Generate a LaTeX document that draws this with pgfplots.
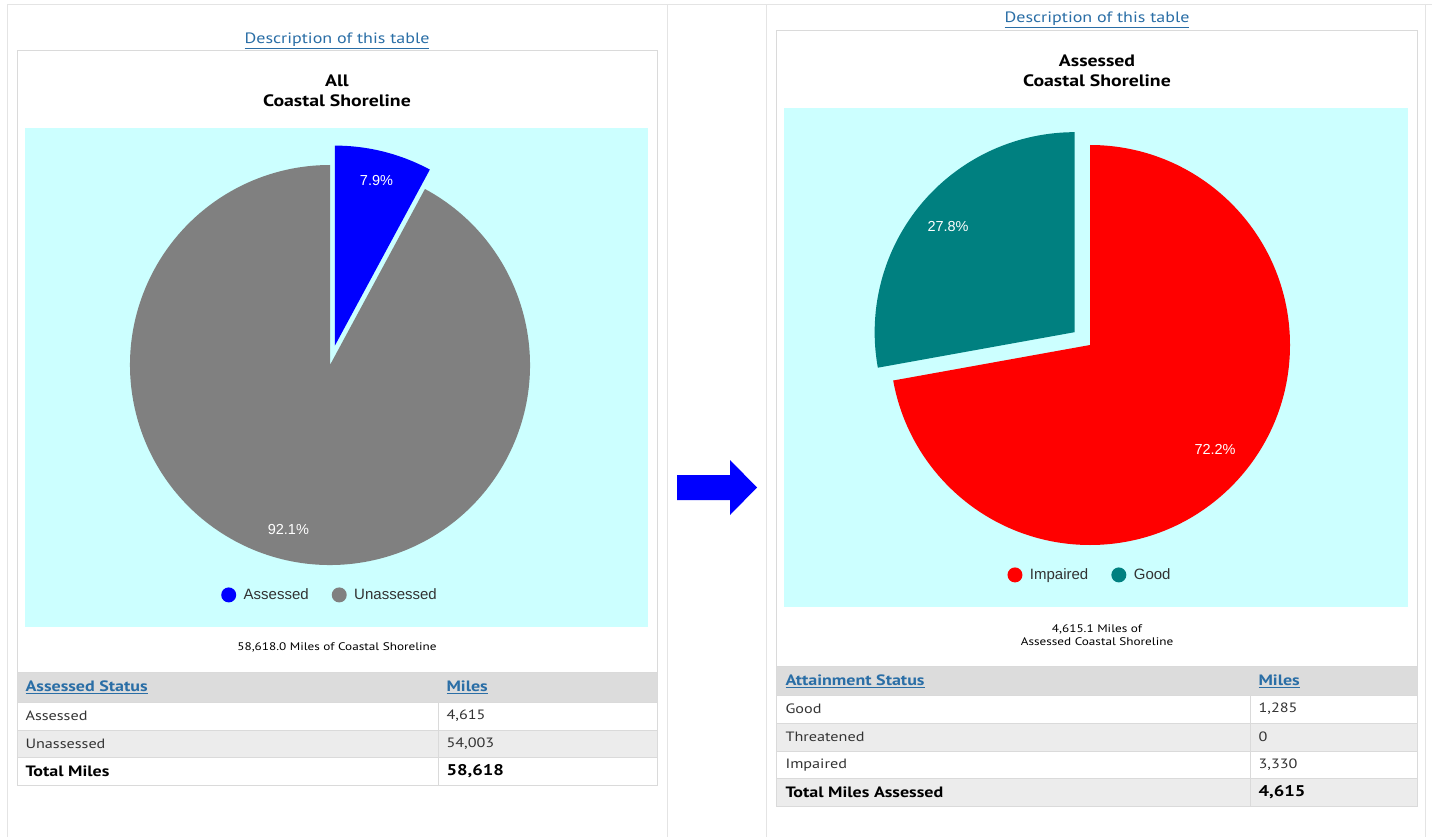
\documentclass[border=0pt]{standalone}
\usepackage{pgfplots}
\pgfplotsset{compat=1.18}
\usepackage{pgfplotstable}
\usepackage{fontspec}
\setmainfont[FakeStretch=1.2]{PT Sans}
\newfontfamily\arial{Liberation Sans}
\definecolor{bgcyan}{HTML}{CCFFFF}
\definecolor{pblue}{HTML}{0000FF}
\definecolor{pgrey}{HTML}{808080}
\definecolor{pred}{HTML}{FF0000}
\definecolor{pteal}{HTML}{008080}
\definecolor{linkc}{HTML}{2A6EA6}
\definecolor{framec}{HTML}{E4E4E4}
\definecolor{boxc}{HTML}{DADADA}
\definecolor{headc}{HTML}{DCDCDC}
\definecolor{altc}{HTML}{ECECEC}
\definecolor{txtc}{HTML}{333333}

\pgfplotstableread{
label value
Assessed 4615
Unassessed 54003
}\leftdata
\pgfplotstableread{
label value
Impaired 3330
Good 1285
}\rightdata

\begin{document}
\begin{tikzpicture}[x=1pt,y=1pt]
% ---- values and angles
\pgfplotstablegetelem{0}{value}\of\leftdata \let\la\pgfplotsretval
\pgfplotstablegetelem{1}{value}\of\leftdata \let\lb\pgfplotsretval
\pgfplotstablegetelem{0}{value}\of\rightdata \let\ra\pgfplotsretval
\pgfplotstablegetelem{1}{value}\of\rightdata \let\rb\pgfplotsretval
\pgfkeys{/pgf/fpu=true,/pgf/fpu/output format=fixed}
\pgfmathsetmacro\lsum{\la+\lb}
\pgfmathsetmacro\lspan{360*\la/\lsum}
\pgfmathsetmacro\lendA{90-\lspan}
\pgfmathsetmacro\lmidA{90-\lspan/2}
\pgfmathsetmacro\lmidB{(\lendA-270)/2}
\pgfmathsetmacro\lpa{100*\la/\lsum}
\pgfmathsetmacro\lpb{100*\lb/\lsum}
\pgfmathsetmacro\rsum{\ra+\rb}
\pgfmathsetmacro\rspan{360*\ra/\rsum}
\pgfmathsetmacro\rendA{90-\rspan}
\pgfmathsetmacro\rmidA{90-\rspan/2}
\pgfmathsetmacro\rmidB{(\rendA-270)/2}
\pgfmathsetmacro\rpa{100*\ra/\rsum}
\pgfmathsetmacro\rpb{100*\rb/\rsum}
\pgfkeys{/pgf/fpu=false}

\fill[white] (0,0) rectangle (1432,-837);
\useasboundingbox (0,0) rectangle (1432,-837);
% frame lines
\draw[framec, line width=1pt] (7,-837) -- (7,-5) -- (1432,-5);
\draw[framec, line width=1pt] (667,-5) -- (667,-837);
\draw[framec, line width=1pt] (766,-5) -- (766,-837);
\draw[framec, line width=1pt] (1425,-5) -- (1425,-837);

% ---- left panel boxes
\draw[boxc] (17,-50) rectangle (657,-785);
\fill[bgcyan] (25,-128) rectangle (648,-627);
\fill[headc] (17,-672) rectangle (657,-702);
\fill[altc] (17,-730) rectangle (657,-757);
\draw[boxc] (17,-702) -- (657,-702);
\draw[boxc] (17,-730) -- (657,-730);
\draw[boxc] (17,-757) -- (657,-757);
\draw[boxc] (438,-702) -- (438,-785);
\draw[boxc] (17,-672) rectangle (657,-785);

% ---- right panel boxes
\draw[boxc] (776,-30) rectangle (1417,-806);
\fill[bgcyan] (784,-108) rectangle (1408,-607);
\fill[headc] (776,-666) rectangle (1417,-695);
\fill[altc] (776,-723) rectangle (1417,-751);
\fill[altc] (776,-778) rectangle (1417,-806);
\draw[boxc] (776,-695) -- (1417,-695);
\draw[boxc] (776,-723) -- (1417,-723);
\draw[boxc] (776,-751) -- (1417,-751);
\draw[boxc] (776,-778) -- (1417,-778);
\draw[boxc] (1250,-695) -- (1250,-806);
\draw[boxc] (776,-666) rectangle (1417,-806);

% ---- arrow
\fill[pblue] (677,-475) -- (730,-475) -- (730,-460) -- (757,-487.5) -- (730,-515) -- (730,-500) -- (677,-500) -- cycle;

% ---- left pie
\begin{axis}[at={(330pt,-365pt)}, anchor=center, x=200pt, y=200pt,
  xmin=-1.2, xmax=1.2, ymin=-1.2, ymax=1.2, hide axis, clip=false,
  legend style={at={(0.5,0.021)}, anchor=center, draw=none, fill=none,
    legend columns=2, font=\arial\fontsize{15}{18}\selectfont, text=txtc,
    /tikz/every even column/.append style={column sep=21pt}},
  legend image code/.code={\fill[#1] (0pt,0pt) circle (7.5pt); \path (13pt,0pt);}]
\addlegendimage{fill=pblue,draw=none}
\addlegendentry{Assessed}
\addlegendimage{fill=pgrey,draw=none}
\addlegendentry{Unassessed}
\fill[pgrey] (axis cs:0,0) -- ++(\lendA:200pt) arc[start angle=\lendA, end angle=-270, radius=200pt] -- cycle;
\fill[pblue] (axis cs:0,0) ++(\lmidA:20pt) -- ++(90:200pt) arc[start angle=90, end angle=\lendA, radius=200pt] -- cycle;
\path (axis cs:0,0) ++(\lmidA:190pt) node[text=white, font=\arial\fontsize{14.5}{17}\selectfont] {\pgfmathprintnumber[fixed,fixed zerofill,precision=1,assume math mode=true]{\lpa}\%};
\path (axis cs:0,0) ++(\lmidB:170pt) node[text=white, font=\arial\fontsize{14.5}{17}\selectfont] {\pgfmathprintnumber[fixed,fixed zerofill,precision=1,assume math mode=true]{\lpb}\%};
\end{axis}

% ---- right pie
\begin{axis}[at={(1090pt,-345pt)}, anchor=center, x=200pt, y=200pt,
  xmin=-1.2, xmax=1.2, ymin=-1.2, ymax=1.2, hide axis, clip=false,
  legend style={at={(0.5,0.021)}, anchor=center, draw=none, fill=none,
    legend columns=2, font=\arial\fontsize{15}{18}\selectfont, text=txtc,
    /tikz/every even column/.append style={column sep=21pt}},
  legend image code/.code={\fill[#1] (0pt,0pt) circle (7.5pt); \path (13pt,0pt);}]
\addlegendimage{fill=pred,draw=none}
\addlegendentry{Impaired}
\addlegendimage{fill=pteal,draw=none}
\addlegendentry{Good}
\fill[pred] (axis cs:0,0) -- ++(90:200pt) arc[start angle=90, end angle=\rendA, radius=200pt] -- cycle;
\fill[pteal] (axis cs:0,0) ++(\rmidB:20pt) -- ++(\rendA:200pt) arc[start angle=\rendA, end angle=-270, radius=200pt] -- cycle;
\path (axis cs:0,0) ++(\rmidA:163pt) node[text=white, font=\arial\fontsize{14.5}{17}\selectfont] {\pgfmathprintnumber[fixed,fixed zerofill,precision=1,assume math mode=true]{\rpa}\%};
\path (axis cs:0,0) ++(\rmidB:185pt) node[text=white, font=\arial\fontsize{14.5}{17}\selectfont] {\pgfmathprintnumber[fixed,fixed zerofill,precision=1,assume math mode=true]{\rpb}\%};
\end{axis}

% ---- left texts
\node[text=linkc, font=\fontsize{15}{18}\selectfont] at (337,-41) {\underline{Description of this table}};
\node[font=\bfseries\fontsize{16.5}{20}\selectfont, align=center] at (337,-91) {All\\Coastal Shoreline};
\node[text=black, font=\fontsize{11}{13}\selectfont] at (337,-647) {58,618.0 Miles of Coastal Shoreline};
\node[anchor=west, text=linkc, font=\bfseries\fontsize{15}{17}\selectfont] at (22,-687) {\underline{Assessed Status}};
\node[anchor=west, text=linkc, font=\bfseries\fontsize{15}{17}\selectfont] at (443,-687) {\underline{Miles}};
\node[anchor=west, text=txtc, font=\fontsize{13.5}{17}\selectfont] at (22,-716) {Assessed};
\node[anchor=west, text=txtc, font=\fontsize{13.5}{17}\selectfont] at (443,-716) {4,615};
\node[anchor=west, text=txtc, font=\fontsize{13.5}{17}\selectfont] at (22,-744) {Unassessed};
\node[anchor=west, text=txtc, font=\fontsize{13.5}{17}\selectfont] at (443,-744) {54,003};
\node[anchor=west, text=black, font=\bfseries\fontsize{15}{17}\selectfont] at (22,-771) {Total Miles};
\node[anchor=west, text=black, font=\bfseries\fontsize{15.5}{18}\selectfont] at (443,-771) {58,618};

% ---- right texts
\node[text=linkc, font=\fontsize{15}{18}\selectfont] at (1097,-20) {\underline{Description of this table}};
\node[font=\bfseries\fontsize{16.5}{20}\selectfont, align=center] at (1097,-71) {Assessed\\Coastal Shoreline};
\node[text=black, font=\fontsize{11}{13}\selectfont, align=center] at (1097,-635) {4,615.1 Miles of\\Assessed Coastal Shoreline};
\node[anchor=west, text=linkc, font=\bfseries\fontsize{15}{17}\selectfont] at (782,-681) {\underline{Attainment Status}};
\node[anchor=west, text=linkc, font=\bfseries\fontsize{15}{17}\selectfont] at (1255,-681) {\underline{Miles}};
\node[anchor=west, text=txtc, font=\fontsize{13.5}{17}\selectfont] at (782,-709) {Good};
\node[anchor=west, text=txtc, font=\fontsize{13.5}{17}\selectfont] at (1255,-709) {1,285};
\node[anchor=west, text=txtc, font=\fontsize{13.5}{17}\selectfont] at (782,-737) {Threatened};
\node[anchor=west, text=txtc, font=\fontsize{13.5}{17}\selectfont] at (1255,-737) {0};
\node[anchor=west, text=txtc, font=\fontsize{13.5}{17}\selectfont] at (782,-765) {Impaired};
\node[anchor=west, text=txtc, font=\fontsize{13.5}{17}\selectfont] at (1255,-765) {3,330};
\node[anchor=west, text=black, font=\bfseries\fontsize{15}{17}\selectfont] at (782,-792) {Total Miles Assessed};
\node[anchor=west, text=black, font=\bfseries\fontsize{15.5}{18}\selectfont] at (1255,-792) {4,615};
\end{tikzpicture}
\end{document}
